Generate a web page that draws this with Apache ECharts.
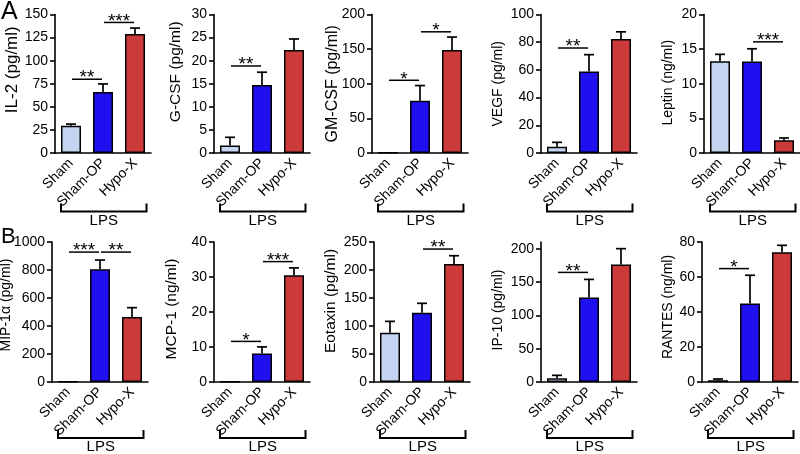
<!DOCTYPE html>
<html><head><meta charset="utf-8">
<script src="https://cdn.jsdelivr.net/npm/echarts@6/dist/echarts.min.js"></script>
<style>html,body{margin:0;padding:0;background:#fff}#c{width:800px;height:454px}</style>
</head><body><div id="c"></div>
<script>
// ---------- data ----------
const categories = ['Sham', 'Sham-OP', 'Hypo-X'];
const groupLabel = 'LPS';

const il2Mean = [29.5, 66.2, 128.8];
const il2Sem = [1.8, 8.6, 6.5];
const il2Ticks = [0, 25, 50, 75, 100, 125, 150];
const il2Sig = [[0, 1, 79.9, '**'], [1, 2, 141.4, '***']];

const gcsfMean = [1.65, 14.75, 22.3];
const gcsfSem = [1.75, 2.75, 2.4];
const gcsfTicks = [0, 5, 10, 15, 20, 25, 30];
const gcsfSig = [[0, 1, 18.85, '**']];

const gmcsfMean = [0.5, 75.3, 148.7];
const gmcsfSem = [0, 22.1, 18.7];
const gmcsfTicks = [0, 50, 100, 150, 200];
const gmcsfSig = [[0, 1, 105, '*'], [1, 2, 175, '*']];

const vegfMean = [4.6, 58.8, 82.3];
const vegfSem = [3.1, 12.2, 5.2];
const vegfTicks = [0, 20, 40, 60, 80, 100];
const vegfSig = [[0, 1, 75.8, '**']];

const leptinMean = [13.25, 13.2, 1.83];
const leptinSem = [1.0, 1.85, 0.34];
const leptinTicks = [0, 5, 10, 15, 20];
const leptinSig = [[1, 2, 16.05, '***']];

const mip1aMean = [3, 805, 464];
const mip1aSem = [0, 66, 67];
const mip1aTicks = [0, 200, 400, 600, 800, 1000];
const mip1aSig = [[0, 1, 928, '***'], [1, 2, 928, '**']];

const mcp1Mean = [0.1, 8.13, 30.5];
const mcp1Sem = [0, 1.9, 2.1];
const mcp1Ticks = [0, 10, 20, 30, 40];
const mcp1Sig = [[0, 1, 11.6, '*'], [1, 2, 34.4, '***']];

const eotaxinMean = [87.9, 123.8, 210.5];
const eotaxinSem = [20.4, 16.7, 15.0];
const eotaxinTicks = [0, 50, 100, 150, 200, 250];
const eotaxinSig = [[1, 2, 237.4, '**']];

const ip10Mean = [5.5, 126.8, 176.4];
const ip10Sem = [4.5, 27.1, 23.6];
const ip10Ticks = [0, 50, 100, 150, 200];
const ip10Sig = [[0, 1, 164.4, '**']];

const rantesMean = [1.0, 44.9, 74.2];
const rantesSem = [0.7, 16.1, 3.9];
const rantesTicks = [0, 20, 40, 60, 80];
const rantesSig = [[0, 1, 64.8, '*']];

const panelTitles = ['IL-2 (pg/ml)', 'G-CSF (pg/ml)', 'GM-CSF (pg/ml)', 'VEGF (pg/ml)', 'Leptin (ng/ml)',
  'MIP-1α (pg/ml)', 'MCP-1 (ng/ml)', 'Eotaxin (pg/ml)', 'IP-10 (pg/ml)', 'RANTES (ng/ml)'];
const axisMax = [150, 30, 200, 100, 20, 1000, 40, 250, 210, 80];

const panels = [
  [il2Mean, il2Sem, il2Ticks, il2Sig],
  [gcsfMean, gcsfSem, gcsfTicks, gcsfSig],
  [gmcsfMean, gmcsfSem, gmcsfTicks, gmcsfSig],
  [vegfMean, vegfSem, vegfTicks, vegfSig],
  [leptinMean, leptinSem, leptinTicks, leptinSig],
  [mip1aMean, mip1aSem, mip1aTicks, mip1aSig],
  [mcp1Mean, mcp1Sem, mcp1Ticks, mcp1Sig],
  [eotaxinMean, eotaxinSem, eotaxinTicks, eotaxinSig],
  [ip10Mean, ip10Sem, ip10Ticks, ip10Sig],
  [rantesMean, rantesSem, rantesTicks, rantesSig]
];

// ---------- layout / style ----------
const FONT = '"Liberation Sans", Arial, Helvetica, sans-serif';
const barColors = ['#c5d5f1', '#2010f0', '#cd3a3a'];
const gridLeft = [55, 214, 372, 541, 704, 52, 214, 374, 541, 702];
const nameGaps = [34, 30, 31, 36, 29, 38.5, 34, 35, 36, 27];
const titleSize = [17, 15.5, 16, 14, 14, 14, 15.5, 15.5, 14, 14];
const titleShift = [14, 12, 0, 0, 1, 7, 3, 11, 2, 5];
const GRID_W = 96;
const rowTop = [14.5, 242];
const rowH = [138.5, 140];

function renderErr(params, api) {
  const i = api.value(0), m = api.value(1), s = api.value(2);
  if (!(s > 0)) return null;
  const p0 = api.coord([i, m]);
  const p1 = api.coord([i, m + s]);
  const hw = 5;
  return {
    type: 'group', children: [
      { type: 'line', shape: { x1: p0[0], y1: p0[1], x2: p1[0], y2: p1[1] }, style: { stroke: '#000', lineWidth: 1.7 } },
      { type: 'line', shape: { x1: p1[0] - hw, y1: p1[1], x2: p1[0] + hw, y2: p1[1] }, style: { stroke: '#000', lineWidth: 1.7 } }
    ]
  };
}

function makeSigRender(labels) {
  return function (params, api) {
    const a = api.value(0), b = api.value(1), y = api.value(2);
    const p0 = api.coord([a, y]);
    const p1 = api.coord([b, y]);
    const x0 = p0[0] + 1, x1 = p1[0] - 1;
    return {
      type: 'group', children: [
        { type: 'line', shape: { x1: x0, y1: p0[1], x2: x1, y2: p0[1] }, style: { stroke: '#000', lineWidth: 1.5 } },
        { type: 'text', x: (x0 + x1) / 2, y: p0[1] - 1,
          style: { text: labels[params.dataIndex], fill: '#000', fontSize: 19, fontFamily: FONT, align: 'center', verticalAlign: 'middle' } }
      ]
    };
  };
}

function makeBracketRender(drop) {
  return function (params, api) {
    const pl = api.coord([0, 0]);
    const pr = api.coord([categories.length - 1, 0]);
    const xl = pl[0] - 10, xr = pr[0] + 11.5;
    const yb = pl[1] + drop;
    return {
      type: 'group', children: [
        { type: 'polyline', shape: { points: [[xl, yb - 8], [xl, yb], [xr, yb], [xr, yb - 8]] },
          style: { stroke: '#000', lineWidth: 2, fill: null } },
        { type: 'text', x: (xl + xr) / 2, y: yb + 1.5,
          style: { text: groupLabel, fill: '#000', fontSize: 15, fontFamily: FONT, align: 'center', verticalAlign: 'top' } }
      ]
    };
  };
}

const grids = [], xAxes = [], yAxes = [], series = [];
panels.forEach((p, k) => {
  const [mean, sem, ticks, sig] = p;
  const row = k < 5 ? 0 : 1;
  grids.push({ left: gridLeft[k], top: rowTop[row], width: GRID_W, height: rowH[row], outerBoundsMode: 'none' });
  xAxes.push({
    type: 'category', gridIndex: k, data: categories,
    axisLine: { lineStyle: { color: '#000', width: 1.6 } },
    axisTick: { alignWithLabel: true, length: 5, lineStyle: { color: '#000', width: 1.6 } },
    axisLabel: { rotate: 45, margin: 8, fontSize: 14, color: '#000', fontFamily: FONT, interval: 0 },
    splitLine: { show: false }
  });
  yAxes.push({
    type: 'value', gridIndex: k, min: 0, max: axisMax[k],
    name: panelTitles[k], nameLocation: 'middle', nameRotate: 90, nameGap: nameGaps[k], nameMoveOverlap: false,
    nameTextStyle: { fontSize: titleSize[k], color: '#000', fontFamily: FONT, padding: [0, 0, 0, 2 * titleShift[k]] },
    axisLine: { show: true, lineStyle: { color: '#000', width: 1.6 } },
    axisTick: { show: true, length: 5, customValues: ticks, lineStyle: { color: '#000', width: 1.6 } },
    axisLabel: { margin: 7, fontSize: 14, color: '#000', fontFamily: FONT, customValues: ticks,
      formatter: v => String(v) },
    splitLine: { show: false }
  });
  series.push({
    type: 'bar', xAxisIndex: k, yAxisIndex: k, barWidth: 20,
    data: mean.map((v, i) => ({ value: v, itemStyle: { color: barColors[i], borderColor: '#000', borderWidth: 1.5 } })),
    z: 2
  });
  series.push({
    type: 'custom', xAxisIndex: k, yAxisIndex: k, z: 3,
    renderItem: renderErr,
    dimensions: ['x', 'mean', 'sem'], encode: { x: 0, y: 1 },
    data: mean.map((v, i) => [i, v, sem[i]])
  });
  series.push({
    type: 'custom', xAxisIndex: k, yAxisIndex: k, z: 3,
    renderItem: makeSigRender(sig.map(s => s[3])),
    dimensions: ['a', 'b', 'y'], encode: { x: [0, 1], y: 2 },
    data: sig.map(s => [s[0], s[1], s[2]])
  });
  series.push({
    type: 'custom', xAxisIndex: k, yAxisIndex: k, z: 3, clip: false,
    renderItem: makeBracketRender(row === 0 ? 58.5 : 56),
    data: [[0, 0]]
  });
});

const chart = echarts.init(document.getElementById('c'), null, { renderer: 'canvas' });
chart.setOption({
  animation: false,
  backgroundColor: '#fff',
  title: [
    { text: 'A', left: 1, top: 0, padding: 0, textStyle: { fontSize: 25, fontWeight: 'normal', color: '#000', fontFamily: FONT } },
    { text: 'B', left: 1, top: 226, padding: 0, textStyle: { fontSize: 22, fontWeight: 'normal', color: '#000', fontFamily: FONT } }
  ],
  grid: grids, xAxis: xAxes, yAxis: yAxes, series: series
});
</script></body></html>
